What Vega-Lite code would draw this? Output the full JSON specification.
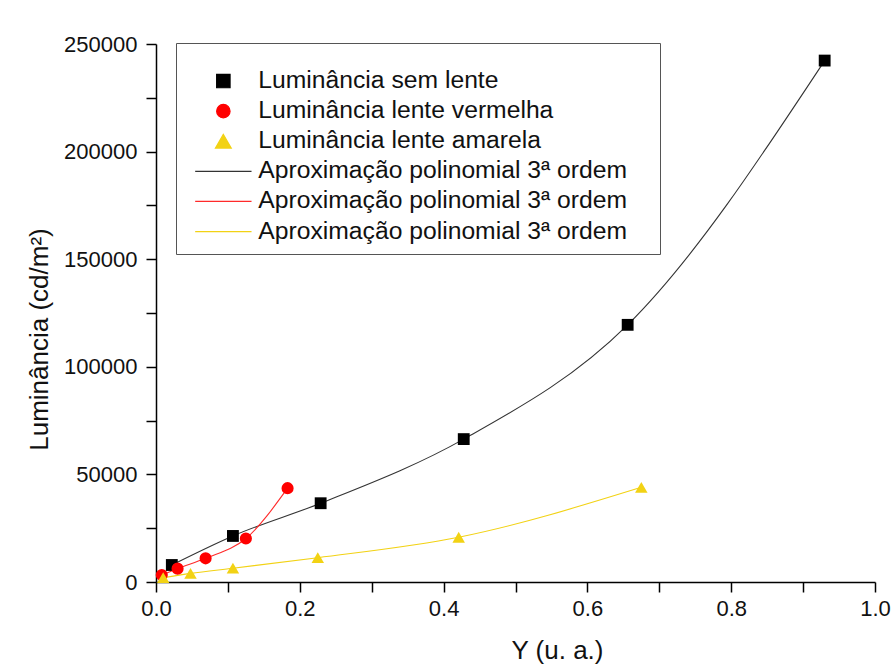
{
  "$schema": "https://vega.github.io/schema/vega-lite/v6.json",
  "width": 719,
  "height": 538,
  "autosize": {"type": "none"},
  "padding": {"left": 156, "top": 44, "right": 21, "bottom": 87},
  "background": "white",
  "config": {
    "view": {"stroke": null},
    "font": "Liberation Sans",
    "legend": {
      "orient": "none",
      "legendX": 20,
      "legendY": -1,
      "padding": 10,
      "strokeColor": "#555555",
      "strokeWidth": 1,
      "fillColor": "white",
      "labelFont": "Liberation Sans",
      "labelFontSize": 24.7,
      "labelColor": "#111111",
      "labelLimit": 600,
      "symbolSize": 180,
      "symbolStrokeWidth": 1.2,
      "rowPadding": 4.1,
      "symbolOffset": 25,
      "labelOffset": 22.6,
      "titleFontSize": 8,
      "titlePadding": 7.7
    }
  },
  "datasets": {
    "pontos": [
      {"serie": "Luminância sem lente", "x": 0.022, "y": 7900},
      {"serie": "Luminância sem lente", "x": 0.107, "y": 21400},
      {"serie": "Luminância sem lente", "x": 0.229, "y": 36600},
      {"serie": "Luminância sem lente", "x": 0.428, "y": 66400},
      {"serie": "Luminância sem lente", "x": 0.656, "y": 119500},
      {"serie": "Luminância sem lente", "x": 0.930, "y": 242300},
      {"serie": "Luminância lente vermelha", "x": 0.008, "y": 3250},
      {"serie": "Luminância lente vermelha", "x": 0.030, "y": 6200},
      {"serie": "Luminância lente vermelha", "x": 0.069, "y": 11000},
      {"serie": "Luminância lente vermelha", "x": 0.125, "y": 20200},
      {"serie": "Luminância lente vermelha", "x": 0.183, "y": 43600},
      {"serie": "Luminância lente amarela", "x": 0.010, "y": 2000},
      {"serie": "Luminância lente amarela", "x": 0.048, "y": 4000},
      {"serie": "Luminância lente amarela", "x": 0.107, "y": 6400},
      {"serie": "Luminância lente amarela", "x": 0.225, "y": 11300},
      {"serie": "Luminância lente amarela", "x": 0.421, "y": 20800},
      {"serie": "Luminância lente amarela", "x": 0.675, "y": 44000}
    ],
    "ajustes": [
      {"serie": "ajuste sem lente", "x": 0.022, "y": 7900},
      {"serie": "ajuste sem lente", "x": 0.107, "y": 21400},
      {"serie": "ajuste sem lente", "x": 0.229, "y": 36600},
      {"serie": "ajuste sem lente", "x": 0.428, "y": 66400},
      {"serie": "ajuste sem lente", "x": 0.656, "y": 119500},
      {"serie": "ajuste sem lente", "x": 0.930, "y": 242300},
      {"serie": "ajuste lente vermelha", "x": 0.008, "y": 3250},
      {"serie": "ajuste lente vermelha", "x": 0.030, "y": 6200},
      {"serie": "ajuste lente vermelha", "x": 0.069, "y": 11000},
      {"serie": "ajuste lente vermelha", "x": 0.125, "y": 20200},
      {"serie": "ajuste lente vermelha", "x": 0.183, "y": 43600},
      {"serie": "ajuste lente amarela", "x": 0.010, "y": 2000},
      {"serie": "ajuste lente amarela", "x": 0.048, "y": 4000},
      {"serie": "ajuste lente amarela", "x": 0.107, "y": 6400},
      {"serie": "ajuste lente amarela", "x": 0.225, "y": 11300},
      {"serie": "ajuste lente amarela", "x": 0.421, "y": 20800},
      {"serie": "ajuste lente amarela", "x": 0.675, "y": 44000}
    ]
  },
  "encoding": {
    "x": {
      "field": "x",
      "type": "quantitative",
      "scale": {"domain": [0, 1], "nice": false, "zero": false},
      "axis": {
        "values": [0, 0.1, 0.2, 0.3, 0.4, 0.5, 0.6, 0.7, 0.8, 0.9, 1.0],
        "format": ".1f",
        "labelExpr": "round(datum.value*10) % 2 === 0 ? datum.label : ''",
        "tickSize": 10,
        "ticks": true,
        "labelOverlap": false,
        "labelBound": false,
        "labelFlush": false,
        "grid": false,
        "domainColor": "#000000",
        "domainWidth": 1.5,
        "tickColor": "#000000",
        "tickWidth": 1.5,
        "labelColor": "#111111",
        "labelFont": "Liberation Sans",
        "labelFontSize": 22,
        "labelPadding": 6,
        "title": "Y  (u. a.)",
        "titleFont": "Liberation Sans",
        "titleFontSize": 26,
        "titleFontWeight": "normal",
        "titleColor": "#111111",
        "titleX": 401,
        "titleY": 76,
        "titleBaseline": "alphabetic",
        "titleAlign": "center",
        "encode": {
          "ticks": {
            "update": {
              "y2": {"signal": "round(datum.value*10) % 2 === 0 ? 10 : 5"}
            }
          }
        }
      }
    },
    "y": {
      "field": "y",
      "type": "quantitative",
      "scale": {"domain": [0, 250000], "nice": false},
      "axis": {
        "values": [0, 25000, 50000, 75000, 100000, 125000, 150000, 175000, 200000, 225000, 250000],
        "format": "d",
        "labelExpr": "datum.value % 50000 === 0 ? datum.label : ''",
        "tickSize": 10,
        "ticks": true,
        "labelOverlap": false,
        "labelBound": false,
        "labelFlush": false,
        "grid": false,
        "domainColor": "#000000",
        "domainWidth": 1.5,
        "tickColor": "#000000",
        "tickWidth": 1.5,
        "labelColor": "#111111",
        "labelFont": "Liberation Sans",
        "labelFontSize": 22,
        "labelPadding": 9,
        "title": "Luminância (cd/m²)",
        "titleFont": "Liberation Sans",
        "titleFontSize": 26,
        "titleFontWeight": "normal",
        "titleColor": "#111111",
        "titleX": -109,
        "titleY": 295,
        "titleBaseline": "alphabetic",
        "titleAlign": "center",
        "titleAngle": -90,
        "encode": {
          "ticks": {
            "update": {
              "x2": {"signal": "datum.value % 50000 === 0 ? -10 : -5"}
            }
          }
        }
      }
    }
  },
  "layer": [
    {
      "data": {"name": "ajustes"},
      "mark": {"type": "line", "interpolate": "monotone", "strokeWidth": 1.1},
      "encoding": {
        "color": {
          "field": "serie",
          "type": "nominal",
          "scale": {
            "domain": ["Luminância sem lente", "Luminância lente vermelha", "Luminância lente amarela", "ajuste sem lente", "ajuste lente vermelha", "ajuste lente amarela"],
            "range": ["#000000", "#ff0000", "#f2d214", "#333333", "#ff2a2a", "#f2d214"]
          },
          "legend": {
            "title": " ",
            "labelExpr": "indexof(datum.value, 'ajuste') === 0 ? 'Aproximação polinomial 3ª ordem\u2009\u2800' : datum.label",
            "encode": {
              "symbols": {
                "update": {
                  "fill": {"scale": "color", "field": "value"},
                  "stroke": {"scale": "color", "field": "value"},
                  "opacity": {"value": 1},
                  "size": {"signal": "datum.value === 'Luminância lente amarela' ? 250 : 180"}
                }
              }
            }
          }
        }
      }
    },
    {
      "data": {"name": "pontos"},
      "mark": {"type": "point", "filled": true, "opacity": 1},
      "encoding": {
        "color": {"field": "serie", "type": "nominal"},
        "size": {
          "field": "serie",
          "type": "nominal",
          "scale": {
            "domain": ["Luminância sem lente", "Luminância lente vermelha", "Luminância lente amarela"],
            "range": [140, 155, 280]
          },
          "legend": null
        },
        "shape": {
          "field": "serie",
          "type": "nominal",
          "scale": {
            "domain": ["Luminância sem lente", "Luminância lente vermelha", "Luminância lente amarela", "ajuste sem lente", "ajuste lente vermelha", "ajuste lente amarela"],
            "range": ["square", "circle", "triangle-up", "M-4.2,0H4.2", "M-4.2,0H4.2", "M-4.2,0H4.2"]
          },
          "legend": {
            "title": " ",
            "labelExpr": "indexof(datum.value, 'ajuste') === 0 ? 'Aproximação polinomial 3ª ordem\u2009\u2800' : datum.label"
          }
        }
      }
    }
  ]
}
